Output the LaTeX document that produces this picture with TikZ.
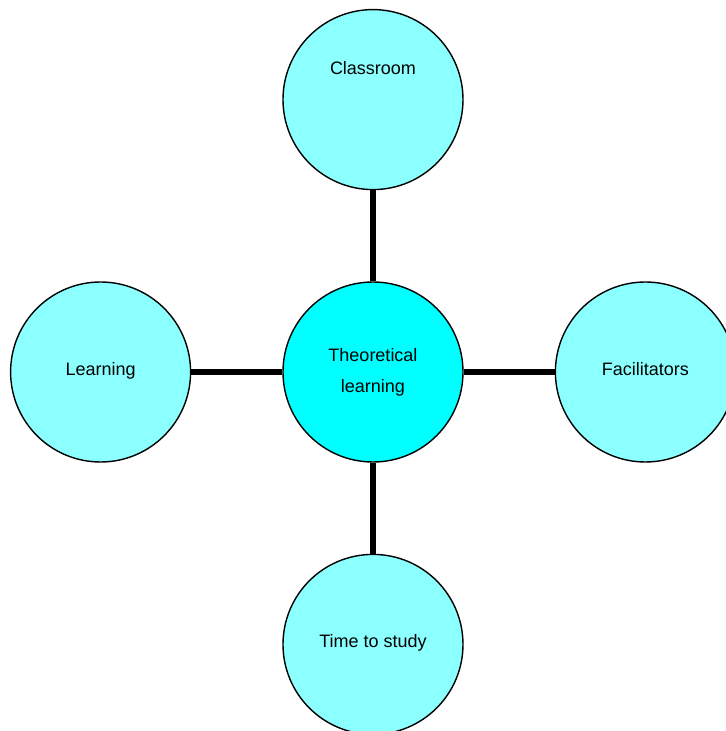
\documentclass[tikz,border=0pt]{standalone}
\usepackage{fontspec}
\setmainfont{Liberation Sans}
\usetikzlibrary{positioning}
\definecolor{hubcyan}{RGB}{0,255,255}
\definecolor{spokecyan}{RGB}{140,255,255}
\begin{document}
\begin{tikzpicture}[
				node distance=2.275cm,
				hub/.style={circle, draw, line width=1pt, fill=hubcyan, minimum size=4.5cm, inner sep=0pt, align=center, font=\fontsize{12.8}{22}\selectfont},
				spoke/.style={hub, fill=spokecyan, text height=0.75em, text depth=0.25em},
				link/.style={line width=4pt}
				]
				\useasboundingbox (-9.325,9.3) rectangle (8.8,-8.975);
				\node[hub] (theory) {Theoretical\\learning};
				\node[spoke, above=of theory, text depth=1.5cm] (classroom) {Classroom};
				\node[spoke, left=of theory] (learning) {Learning};
				\node[spoke, right=of theory] (facilitators) {Facilitators};
				\node[spoke, below=of theory] (time) {Time to study};
				
				\draw[link] (theory) -- (classroom);
				\draw[link] (theory) -- (learning);
				\draw[link] (theory) -- (facilitators);
				\draw[link] (theory) -- (time);
			\end{tikzpicture}
\end{document}
